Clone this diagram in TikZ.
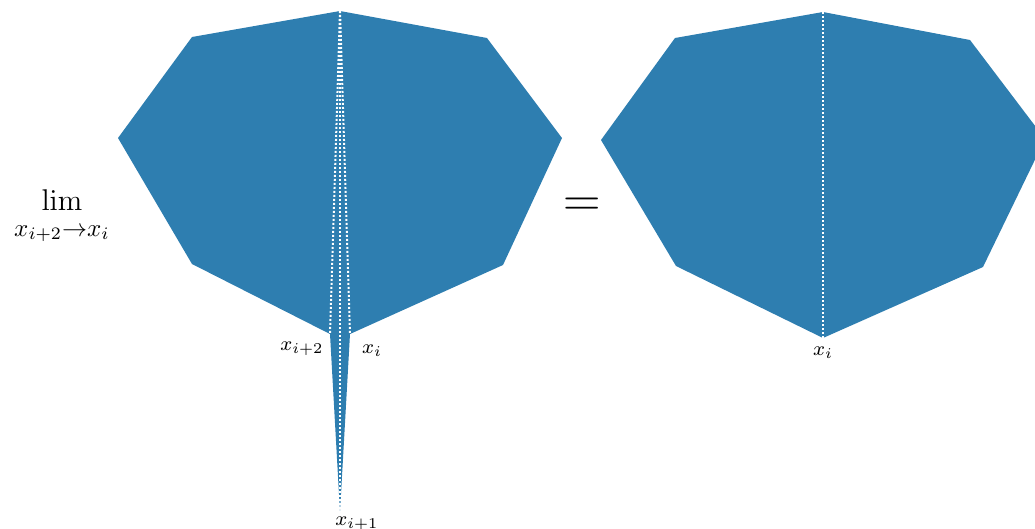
\documentclass[tikz,border=0pt]{standalone}
\usepackage{amsmath}
\definecolor{polyblue}{RGB}{46,126,176}

\begin{document}
\begin{tikzpicture}[
			x=0.4pt, y=-0.4pt,
			poly/.style={fill=polyblue, draw=none},
			seam/.style={draw=white, line width=0.8pt, dash pattern=on 0.8pt off 0.8pt},
			lbl/.style={font=\footnotesize, inner sep=0pt, anchor=base}
			]
			
			\useasboundingbox (0,0) rectangle (1035,528);
			\clip (0,0) rectangle (1035,528);
			
			% left polygon with the spike
			\coordinate (ltop) at (340,11);
			\coordinate (lxa) at (330,334);
			\coordinate (lxb) at (350,334);
			\coordinate (lxc) at (340,512);
			\fill[poly] (ltop) -- (487,38) -- (562,138) -- (503,265) -- (lxb)
			-- (lxc) -- (lxa) -- (192,264) -- (118,138) -- (192,37) -- cycle;
			
			\draw[seam] (ltop) -- (lxa);
			\draw[seam] (ltop) -- (lxb);
			\draw[seam] (ltop) -- (lxc);
			
			\node[lbl] (laba) at (302,350) {$x_{i+2}$};
			\node[lbl] (labb) at (372,353) {$x_i$};
			\node[lbl] (labc) at (357,525) {$x_{i+1}$};
			
			% right polygon
			\coordinate (rtop) at (823,12);
			\coordinate (rbot) at (823,338);
			\fill[poly] (rtop) -- (970,40) -- (1045,139) -- (983,267) -- (rbot)
			-- (676,266) -- (601,140) -- (675,38) -- cycle;
			
			\draw[seam] (rtop) -- (rbot);
			
			\node[lbl] (labr) at (823,355) {$x_i$};
			
			% limit and equals sign
			\node[font=\large, inner sep=0pt, anchor=base] (lim) at (62,210) {$\lim$};
			\node[lbl, font=\normalsize] (limsub) at (62,236) {$x_{i+2}{\to}x_i$};
			\node[font=\huge, inner sep=0pt] (eq) at (582,207) {$=$};
			
		\end{tikzpicture}
\end{document}
